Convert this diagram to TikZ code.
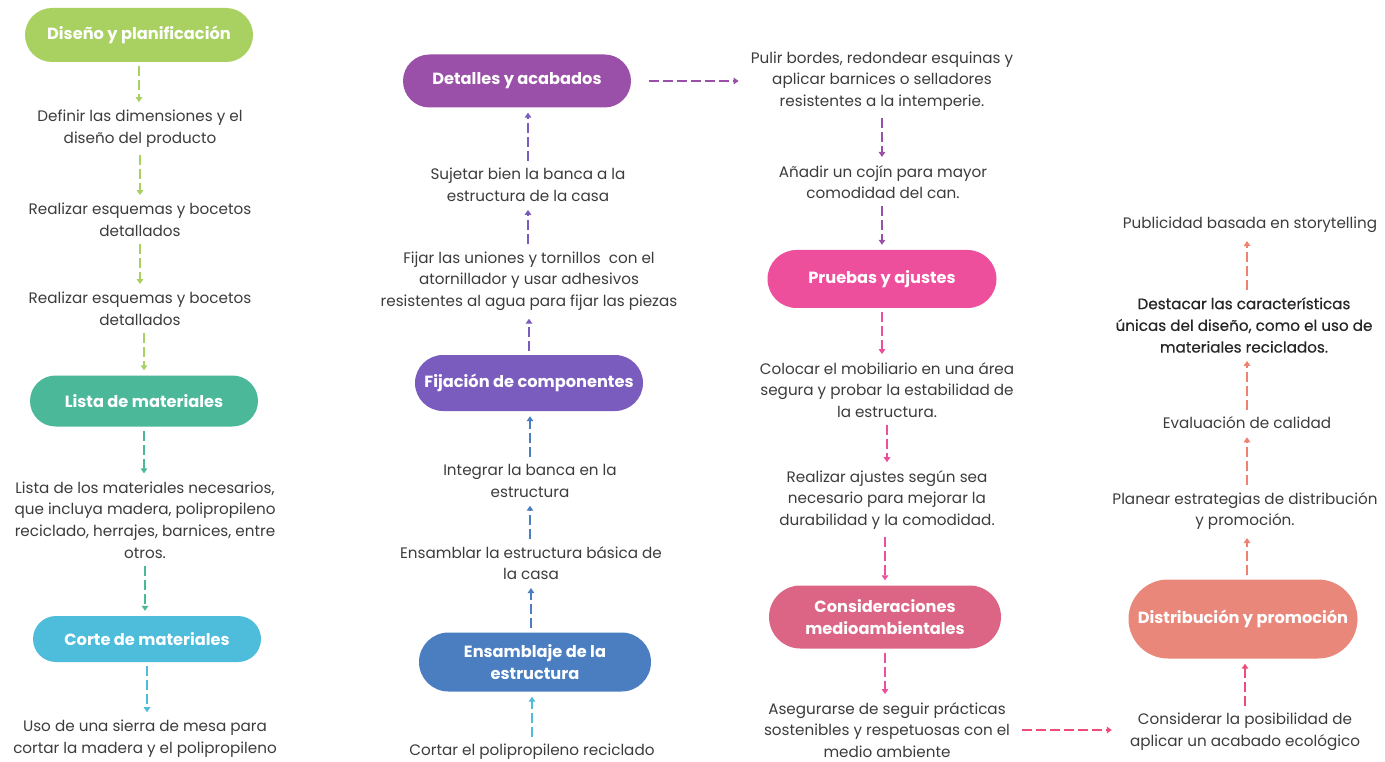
\documentclass[tikz,border=0pt]{standalone}
\usepackage{fontspec}
\setmainfont{Poppins}
\newfontfamily\medfont{Poppins}[FakeBold=0.4]
\usetikzlibrary{shapes.misc,arrows.meta}
\definecolor{cDis}{HTML}{A8D162}
\definecolor{cLis}{HTML}{4BB89A}
\definecolor{cCor}{HTML}{4DBDDB}
\definecolor{cDet}{HTML}{9A50A8}
\definecolor{cFij}{HTML}{7A5CBE}
\definecolor{cEns}{HTML}{4B7EC1}
\definecolor{cPru}{HTML}{EE4F9D}
\definecolor{cCon}{HTML}{DC6585}
\definecolor{cDst}{HTML}{E8877A}
\definecolor{cArrPink}{HTML}{EE4D7B}
\definecolor{cArrSal}{HTML}{F08070}
\definecolor{txtc}{HTML}{3C3C3C}
\begin{document}
\begin{tikzpicture}[x=1pt,y=-1pt,
  pill/.style={rounded rectangle, fill=#1, text=white, font=\bfseries\fontsize{16.2}{22.5}\selectfont, minimum width=228pt, minimum height=52pt, align=center, inner sep=0pt},
  txt/.style={align=center, text=txtc, font=\fontsize{15.2}{21.7}\selectfont, inner sep=3pt},
  arr/.style={draw=#1, line width=1.5pt, dash pattern=on 10pt off 4pt, -{Triangle[width=6.5pt,length=5pt]}, shorten <=4pt, shorten >=5pt}]
\fill[white] (0,0) rectangle (1385,762);
\useasboundingbox (0,0) rectangle (1385,762);

% column 1
\node[pill=cDis, minimum height=54pt] (p1) at (139,35) {Diseño y planificación};
\node[txt] (a1) at (140,129) {Definir las dimensiones y el\\diseño del producto};
\node[txt] (a2) at (140,220) {Realizar esquemas y bocetos\\detallados};
\node[txt] (a3) at (140,309) {Realizar esquemas y bocetos\\detallados};
\node[pill=cLis, minimum height=51pt] (p2) at (144,401) {Lista de materiales};
\node[txt] (a4) at (145,520) {Lista de los materiales necesarios,\\que incluya madera, polipropileno\\reciclado, herrajes, barnices, entre\\otros.};
\node[pill=cCor, minimum height=46pt] (p3) at (147,639) {Corte de materiales};
\node[txt] (a5) at (145,739) {Uso de una sierra de mesa para\\cortar la madera y el polipropileno};

\draw[arr=cDis] (p1.south) -- (p1.south |- a1.north);
\draw[arr=cDis] (a1.south) -- (a1.south |- a2.north);
\draw[arr=cDis] (a2.south) -- (a2.south |- a3.north);
\draw[arr=cDis] (p2.north |- a3.south) -- (p2.north);
\draw[arr=cLis] (p2.south) -- (p2.south |- a4.north);
\draw[arr=cLis] (a4.south) -- (a4.south |- p3.north);
\draw[arr=cCor] (p3.south) -- (p3.south |- a5.north);

% column 2
\node[txt] (b1) at (532,752) {Cortar el polipropileno reciclado};
\node[pill=cEns, minimum width=232pt, minimum height=59pt] (p6) at (535,662) {Ensamblaje de la\\estructura};
\node[txt] (b2) at (531,563) {Ensamblar la estructura básica de\\la casa};
\node[txt] (b3) at (530,481) {Integrar la banca en la\\estructura};
\node[pill=cFij, minimum height=56pt] (p5) at (529,383) {Fijación de componentes};
\node[txt] (b4) at (529,281) {Fijar las uniones y tornillos~ con el\\atornillador y usar adhesivos\\resistentes al agua para fijar las piezas};
\node[txt] (b5) at (528,185) {Sujetar bien la banca a la\\estructura de la casa};
\node[pill=cDet, minimum height=53pt] (p4) at (517,81) {Detalles y acabados};

\draw[arr=cCor] (b1.north) -- (b1.north |- p6.south);
\draw[arr=cEns] (p6.north -| b2) -- (b2.south);
\draw[arr=cEns] (b2.north -| b3) -- (b3.south);
\draw[arr=cEns] (b3.north) -- (b3.north |- p5.south);
\draw[arr=cFij] (p5.north) -- (p5.north |- b4.south);
\draw[arr=cFij] (b4.north -| b5) -- (b5.south);
\draw[arr=cFij] (b5.north) -- (b5.north |- p4.south);

% column 3
\node[txt] (c1) at (882,81) {Pulir bordes, redondear esquinas y\\aplicar barnices o selladores\\resistentes a la intemperie.};
\node[txt] (c2) at (883,182) {Añadir un cojín para mayor\\comodidad del can.};
\node[pill=cPru, minimum width=229pt, minimum height=58pt] (p7) at (882,279) {Pruebas y ajustes};
\node[txt] (c3) at (887,390) {Colocar el mobiliario en una área\\segura y probar la estabilidad de\\la estructura.};
\node[txt] (c4) at (887,500) {Realizar ajustes según sea\\necesario para mejorar la\\durabilidad y la comodidad.};
\node[pill=cCon, minimum width=232pt, minimum height=63pt] (p8) at (885,617) {Consideraciones\\medioambientales};
\node[txt] (c5) at (887,730) {Asegurarse de seguir prácticas\\sostenibles y respetuosas con el\\medio ambiente};

\draw[arr=cDet, shorten <=18pt, shorten >=9pt] (p4.east) -- (p4.east -| c1.west);
\draw[arr=cDet] (c1.south) -- (c1.south |- c2.north);
\draw[arr=cDet] (c2.south -| p7) -- (p7.north);
\draw[arr=cPru] (p7.south) -- (p7.south |- c3.north);
\draw[arr=cPru] (c3.south) -- (c3.south |- c4.north);
\draw[arr=cPru] (c4.south -| p8) -- (p8.north);
\draw[arr=cPru] (p8.south) -- (p8.south |- c5.north);

% column 4
\node[txt] (d1) at (1245,732) {Considerar la posibilidad de\\aplicar un acabado ecológico};
\node[pill=cDst, minimum width=229pt, minimum height=79pt] (p9) at (1243,619) {Distribución y promoción};
\node[txt] (d2) at (1245,511) {Planear estrategias de distribución\\y promoción.};
\node[txt] (d3) at (1247,423) {Evaluación de calidad};
\node[txt, font=\medfont\fontsize{15.2}{21.7}\selectfont, text=black!85] (d4) at (1244,325) {Destacar las características\\únicas del diseño, como el uso de\\materiales reciclados.};
\node[txt] (d5) at (1250,225) {Publicidad basada en storytelling};

\draw[arr=cArrPink, shorten <=9pt, shorten >=15pt] (c5.east) -- (c5.east -| d1.west);
\draw[arr=cArrPink] (d1.north) -- (d1.north |- p9.south);
\draw[arr=cArrSal] (p9.north -| d3) -- (d2.south -| d3);
\draw[arr=cArrSal] (d2.north -| d3) -- (d3.south);
\draw[arr=cArrSal] (d3.north) -- (d4.south -| d3);
\draw[arr=cArrSal] (d4.north -| d3) -- (d5.south -| d3);
\end{tikzpicture}
\end{document}
